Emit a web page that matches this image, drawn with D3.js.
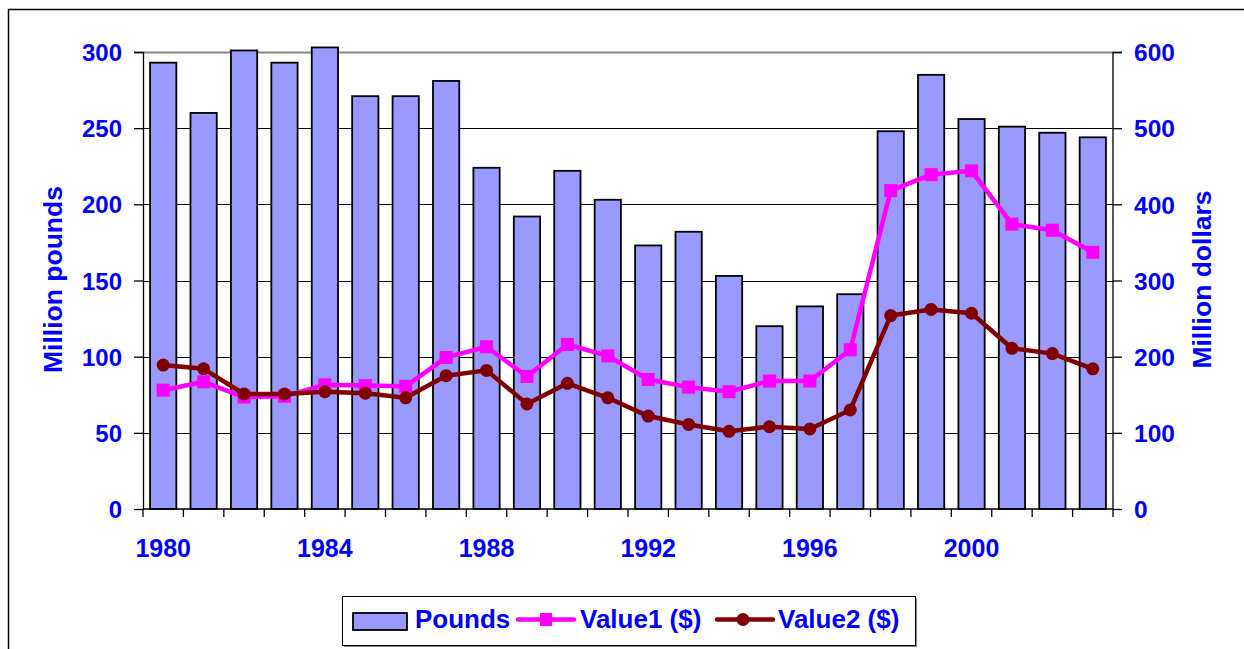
<!DOCTYPE html>
<head>
  <meta charset="utf-8">
  <script src="https://d3js.org/d3.v7.min.js"></script>
  <style>
    body { margin: 0; background: #fff; }
    text { font-family: "Liberation Sans", Arial, sans-serif; font-weight: bold; fill: #0000ff; }
  </style>
</head>
<body>
<script>
  // data
  var years = d3.range(1980, 2004);
  var pounds = [293, 260, 301, 293, 303, 271, 271, 281, 224, 192, 222, 203,
                173, 182, 153, 120, 133, 141, 248, 285, 256, 251, 247, 244];
  var value1 = [156, 167, 147, 148, 163, 162, 161, 199, 213, 174, 216, 201,
                170, 160, 154, 168, 168, 209, 418, 439, 444, 374, 366, 337];
  var value2 = [189, 184, 151, 151, 154, 152, 146, 175, 182, 138, 165, 146,
                122, 111, 102, 108, 105, 130, 254, 262, 257, 211, 204, 184];
  var leftTicks = [0, 50, 100, 150, 200, 250, 300];
  var rightTicks = [0, 100, 200, 300, 400, 500, 600];
  var labelYears = [1980, 1984, 1988, 1992, 1996, 2000];

  var outerWidth = 1244, outerHeight = 649;
  var margin = { top: 52, left: 143, right: 131, bottom: 140 };
  var width = outerWidth - margin.left - margin.right,
      height = outerHeight - margin.top - margin.bottom;

  var svg = d3.select("body").append("svg")
    .attr("width", outerWidth)
    .attr("height", outerHeight);

  // outer chart frame (only top and left edges visible)
  svg.append("path")
    .attr("d", "M8.5," + outerHeight + "V9.5H" + outerWidth)
    .attr("fill", "none").attr("stroke", "#000").attr("stroke-width", 1.5);

  var g = svg.append("g").attr("transform", "translate(" + margin.left + "," + margin.top + ")");

  var x = d3.scaleBand().domain(years).range([0, width]).paddingInner(0.35).paddingOuter(0.175);
  var xb = d3.scaleBand().domain(years).range([0, width]);
  var yL = d3.scaleLinear().domain([0, 300]).range([height, 0]);
  var yR = d3.scaleLinear().domain([0, 600]).range([height, 0]);

  // gridlines
  g.selectAll(".grid").data(leftTicks.slice(1, -1)).enter().append("line")
    .attr("x1", 0).attr("x2", width)
    .attr("y1", function(d) { return Math.round(yL(d)) + 0.5; })
    .attr("y2", function(d) { return Math.round(yL(d)) + 0.5; })
    .attr("stroke", "#000").attr("stroke-width", 1);
  g.append("line").attr("x1", 0).attr("x2", width).attr("y1", 0.5).attr("y2", 0.5)
    .attr("stroke", "#888").attr("stroke-width", 2);

  // bars
  g.selectAll(".bar").data(pounds).enter().append("rect")
    .attr("x", function(d, i) { return x(years[i]); })
    .attr("width", x.bandwidth())
    .attr("y", function(d) { return yL(d); })
    .attr("height", function(d) { return height - yL(d); })
    .attr("fill", "#9999ff").attr("stroke", "#000").attr("stroke-width", 1.8);

  // left axis
  var leftAxis = d3.axisLeft(yL).tickValues(leftTicks).tickSize(9).tickPadding(12);
  var la = g.append("g").call(leftAxis);
  la.selectAll("text").style("font-size", "24px").attr("dy", "0.36em");
  la.selectAll("line, path").attr("stroke", "#000").attr("stroke-width", 1.3);
  la.select(".domain").attr("d", "M-9,0.5H0.5V" + height);

  // right axis
  var rightAxis = d3.axisRight(yR).tickValues(rightTicks).tickSize(9).tickPadding(12);
  var ra = g.append("g").attr("transform", "translate(" + width + ",0)").call(rightAxis);
  ra.selectAll("text").style("font-size", "24.5px").attr("dy", "0.36em");
  ra.selectAll("line, path").attr("stroke", "#000").attr("stroke-width", 1.3);
  ra.select(".domain").attr("d", "M9,0.5H0V" + height);

  // bottom axis: ticks at band boundaries, labels every 4 years
  g.append("line").attr("x1", 0).attr("x2", width).attr("y1", height).attr("y2", height)
    .attr("stroke", "#000").attr("stroke-width", 1.5);
  g.selectAll(".xtick").data(years.concat([2004])).enter().append("line")
    .attr("x1", function(d, i) { return i * xb.step(); })
    .attr("x2", function(d, i) { return i * xb.step(); })
    .attr("y1", height).attr("y2", height + 8)
    .attr("stroke", "#000").attr("stroke-width", 1.3);
  g.selectAll(".xlab").data(labelYears).enter().append("text")
    .attr("x", function(d) { return xb(d) + xb.bandwidth() / 2; })
    .attr("y", height + 48)
    .attr("text-anchor", "middle")
    .style("font-size", "25px")
    .text(function(d) { return d; });

  // axis titles
  g.append("text")
    .attr("transform", "translate(-81," + (height / 2 - 1) + ") rotate(-90)")
    .attr("text-anchor", "middle").style("font-size", "26.5px")
    .text("Million pounds");
  g.append("text")
    .attr("transform", "translate(" + (width + 98) + "," + (height / 2 - 1) + ") rotate(-90)")
    .attr("text-anchor", "middle").style("font-size", "26.5px")
    .text("Million dollars");

  // lines
  var cx = function(i) { return xb(years[i]) + xb.bandwidth() / 2; };
  var line = function(arr) {
    return d3.line().x(function(d, i) { return cx(i); }).y(function(d) { return yR(d); })(arr);
  };

  g.append("path").attr("d", line(value1)).attr("fill", "none")
    .attr("stroke", "#ff00ff").attr("stroke-width", 4.5).attr("stroke-linejoin", "round");
  g.selectAll(".sq").data(value1).enter().append("rect")
    .attr("x", function(d, i) { return cx(i) - 6.5; })
    .attr("y", function(d) { return yR(d) - 6.5; })
    .attr("width", 13).attr("height", 13).attr("fill", "#ff00ff");

  g.append("path").attr("d", line(value2)).attr("fill", "none")
    .attr("stroke", "#800000").attr("stroke-width", 4.5).attr("stroke-linejoin", "round");
  g.selectAll(".dot").data(value2).enter().append("circle")
    .attr("cx", function(d, i) { return cx(i); })
    .attr("cy", function(d) { return yR(d); })
    .attr("r", 6.5).attr("fill", "#800000");

  // legend
  var lg = svg.append("g").attr("transform", "translate(342,596)");
  lg.append("rect").attr("x", 2).attr("y", 2).attr("width", 573).attr("height", 49).attr("fill", "#888");
  lg.append("rect").attr("x", 0.5).attr("y", 0.5).attr("width", 573).attr("height", 49)
    .attr("fill", "#fff").attr("stroke", "#000").attr("stroke-width", 1);
  lg.append("rect").attr("x", 11).attr("y", 17).attr("width", 54).attr("height", 17)
    .attr("fill", "#9999ff").attr("stroke", "#000").attr("stroke-width", 1.8);
  lg.append("text").attr("x", 73).attr("y", 32).style("font-size", "26px").text("Pounds");

  lg.append("line").attr("x1", 176).attr("x2", 232).attr("y1", 23.5).attr("y2", 23.5)
    .attr("stroke", "#ff00ff").attr("stroke-width", 4.5).attr("stroke-linecap", "round");
  lg.append("rect").attr("x", 198).attr("y", 17).attr("width", 12).attr("height", 13).attr("fill", "#ff00ff");
  lg.append("text").attr("x", 238).attr("y", 32).style("font-size", "26px").text("Value1 ($)");

  lg.append("line").attr("x1", 375).attr("x2", 431).attr("y1", 23.5).attr("y2", 23.5)
    .attr("stroke", "#800000").attr("stroke-width", 4.5).attr("stroke-linecap", "round");
  lg.append("circle").attr("cx", 401).attr("cy", 23.5).attr("r", 6.5).attr("fill", "#800000");
  lg.append("text").attr("x", 436).attr("y", 32).style("font-size", "26px").text("Value2 ($)");
</script>
</body>
